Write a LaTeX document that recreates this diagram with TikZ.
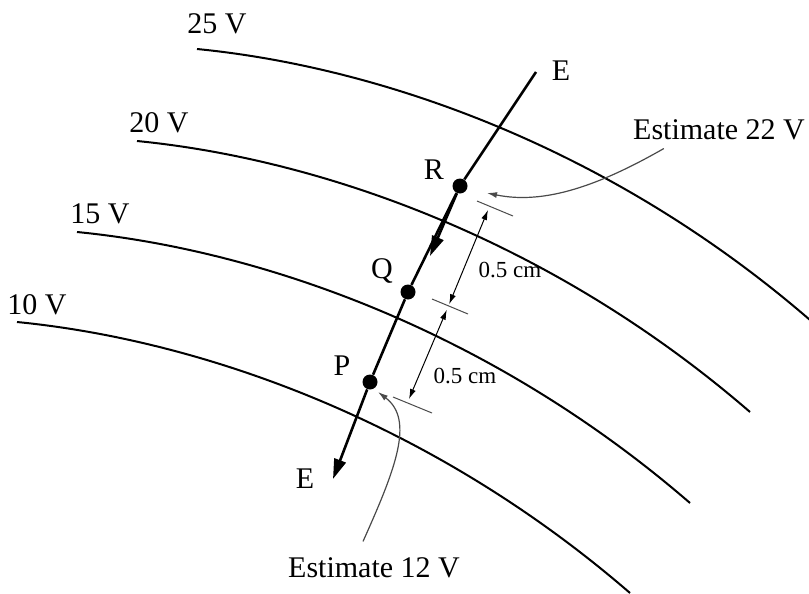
\documentclass[tikz,border=0pt]{standalone}
\usepackage{fontspec}
\setmainfont{Liberation Serif}
\usepackage{tikz}
\usetikzlibrary{arrows.meta, positioning, calc}
\definecolor{linecolor}{HTML}{000000}
\definecolor{leadcolor}{HTML}{4A4A4A}

\begin{document}
\begin{tikzpicture}[
    x=0.5pt, y=-0.5pt,
    every node/.style={font=\fontsize{15}{18}\selectfont, inner sep=1pt},
    equi/.style={draw=linecolor, line width=1pt},
    field/.style={draw=linecolor, line width=1.3pt},
    fieldarr/.style={field, -{Triangle[length=10pt, width=6pt]}},
    dot/.style={circle, fill=linecolor, inner sep=0pt, minimum size=7.5pt},
    tickmark/.style={draw=leadcolor, line width=0.5pt},
    dimarrow/.style={draw=linecolor, line width=0.5pt,
                     {Latex[length=5pt, width=3pt]}-{Latex[length=5pt, width=3pt]}},
    leader/.style={draw=leadcolor, line width=0.6pt, -{Latex[length=5pt, width=3pt]}},
    dimlabel/.style={font=\fontsize{11.5}{14}\selectfont}
]
    \useasboundingbox (0,0) rectangle (809,594);

    % Equipotential lines
    \draw[equi] (17,322) .. controls (200,340) and (430,420) .. (630,593);
    \draw[equi, shift={(60,-90)}] (17,322) .. controls (200,340) and (430,420) .. (630,593);
    \draw[equi, shift={(120,-181)}] (17,322) .. controls (200,340) and (430,420) .. (630,593);
    \draw[equi, shift={(180,-273)}] (17,322) .. controls (200,340) and (430,420) .. (630,593);

    \node (v10) at (37,305) {10 V};
    \node (v15) at (100,214) {15 V};
    \node (v20) at (159,123) {20 V};
    \node (v25) at (217,24) {25 V};

    % Points on the field line
    \node[dot] (R) at (460,186) {};
    \node[dot] (Q) at (408,292) {};
    \node[dot] (P) at (370,382) {};
    \coordinate (Etop) at (536,72);
    \coordinate (Emid) at (430,256);
    \coordinate (Ebot) at (333,479);

    \node (Rlab) at (434,170) {R};
    \node (Qlab) at (382,271) {Q};
    \node (Plab) at (342,366) {P};
    \node (Etoplab) at (561,71) {E};
    \node (Ebotlab) at (305,479) {E};

    % Field line
    \draw[field] (Etop) -- (R) -- (Q) -- (P);
    \draw[fieldarr] (R) -- (Emid);
    \draw[fieldarr] (P) -- (Ebot);

    % Spacing marks
    \draw[tickmark] (477,201) -- (513,216);
    \draw[tickmark] (432,299) -- (468,314);
    \draw[tickmark] (393,397) -- (432,413);
    \coordinate (d1) at (488,210);
    \coordinate (d2) at (448,307);
    \coordinate (d3) at (409,399);
    \draw[dimarrow, shorten >=1.5pt] (d1) -- (d2);
    \draw[dimarrow, shorten <=1.5pt] (d2) -- (d3);
    \node[dimlabel] (dim1) at (510,270) {0.5 cm};
    \node[dimlabel] (dim2) at (465,376) {0.5 cm};

    % Estimates
    \node (est22) at (719,130) {Estimate 22 V};
    \node (est12) at (374,568) {Estimate 12 V};
    \draw[leader] ([xshift=16.5pt, yshift=-3pt]est22.south west)
          .. controls (600,185) and (545,205) .. ([xshift=13.5pt, yshift=-3.5pt]R.center);
    \draw[leader] ([xshift=-5.5pt, yshift=7pt]est12.north)
          .. controls (395,470) and (415,420) .. ([xshift=4pt, yshift=-5pt]P.center);
\end{tikzpicture}
\end{document}
